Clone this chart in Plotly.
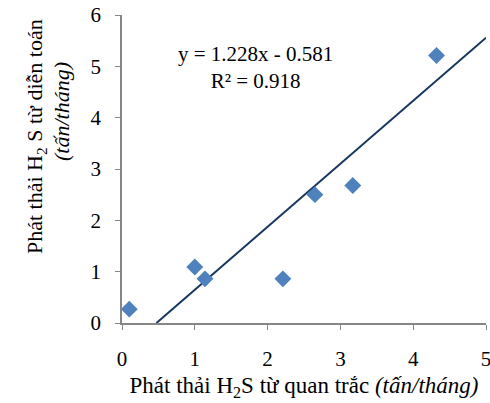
import plotly.graph_objects as go

# Data
x_obs = [0.10, 1.00, 1.14, 2.21, 2.65, 3.17, 4.32]
y_sim = [0.27, 1.09, 0.86, 0.86, 2.50, 2.68, 5.21]
slope = 1.228
intercept = -0.581
eq_text = "y = 1.228x - 0.581<br>R² = 0.918"
x_ticks = [0, 1, 2, 3, 4, 5]
y_ticks = [0, 1, 2, 3, 4, 5, 6]

x0 = -intercept / slope
trend_x = [x0, 5]
trend_y = [slope * v + intercept for v in trend_x]

FONT = "Liberation Serif"
tf = dict(family=FONT, size=21, color="black")
ttf = dict(family=FONT, size=22, color="black")
xtf = dict(family=FONT, size=23, color="black")

fig = go.Figure()
fig.add_trace(go.Scatter(x=trend_x, y=trend_y, mode="lines",
                         line=dict(color="#17375E", width=2), showlegend=False))
fig.add_trace(go.Scatter(x=x_obs, y=y_sim, mode="markers",
                         marker=dict(symbol="diamond", size=13, color="#4F81BD"),
                         showlegend=False))

fig.update_layout(
    width=490, height=403,
    margin=dict(l=122, r=4, t=15, b=80),
    paper_bgcolor="white", plot_bgcolor="white",
    font=tf,
    xaxis=dict(range=[0, 5], tickvals=x_ticks, showgrid=False, zeroline=False,
               showline=True, linecolor="#868686", linewidth=1.5,
               ticks="outside", ticklen=5, tickcolor="#868686",
               ticklabelstandoff=11, tickfont=tf, automargin=False,
               ticklabeloverflow="allow",
               title=dict(text="Phát thải H<sub>2</sub>S từ quan trắc <i>(tấn/tháng)</i>",
                          font=xtf, standoff=7)),
    yaxis=dict(range=[0, 6], tickvals=y_ticks, showgrid=False, zeroline=False,
               showline=True, linecolor="#868686", linewidth=1.5,
               ticks="outside", ticklen=5, tickcolor="#868686",
               ticklabelstandoff=10, tickfont=tf, automargin=False,
               ticklabeloverflow="allow"),
    annotations=[
        dict(text=eq_text, x=0.366, y=0.92, xref="paper", yref="paper",
             showarrow=False, font=tf, align="center"),
        dict(text="Phát thải H<sub>2</sub> S từ diễn toán", x=36, y=137,
             xref="paper", yref="paper", showarrow=False, textangle=-90,
             xanchor="center", yanchor="middle", font=ttf),
        dict(text="<i>(tấn/tháng)</i>", x=61, y=112,
             xref="paper", yref="paper", showarrow=False, textangle=-90,
             xanchor="center", yanchor="middle", font=ttf),
    ],
)

pw = 490 - 122 - 4
ph = 403 - 15 - 80
for a in fig.layout.annotations[1:]:
    a.x = (a.x - 122) / pw
    a.y = (403 - 80 - a.y) / ph

fig.write_html("out.html", config={"displayModeBar": False},
               post_script="document.body.style.margin='0';document.body.style.padding='0';")
